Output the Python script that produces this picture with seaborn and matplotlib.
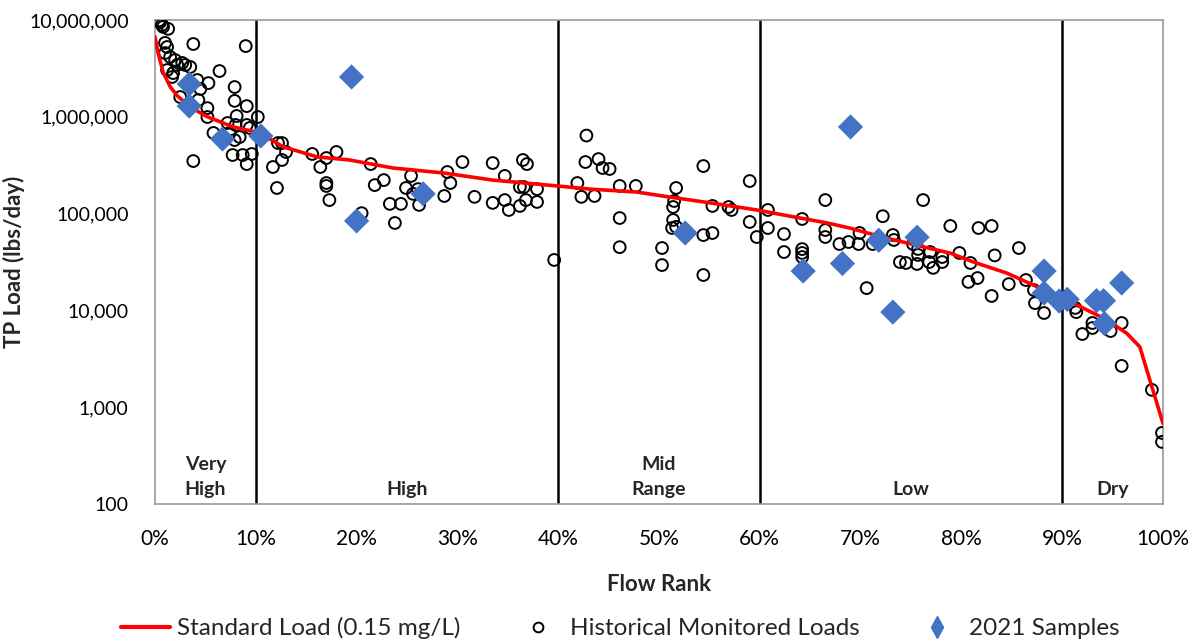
import numpy as np
import pandas as pd
import matplotlib
matplotlib.use("Agg")
import matplotlib.pyplot as plt
import seaborn as sns
from matplotlib.ticker import FuncFormatter, FixedLocator
from matplotlib.lines import Line2D

# ---- Standard load curve (flow rank %, lbs/day) ----
std_rank = [0, 0.3, 0.8, 1.5, 2.2, 3.5, 5.2, 7.7, 10.4, 12.7, 16.1, 19.3, 23.6, 28.6, 33.5, 39.9,
            43.2, 47.8, 51.1, 55.1, 59.7, 62.3, 66.7, 68.9, 72.2, 75.6, 78.9, 81.2,
            84.5, 87.8, 91.1, 94.4, 96.4, 97.7, 98.7, 100]
std_load = [6.7e6, 4.6e6, 2.9e6, 2.05e6, 1.65e6, 1.26e6, 1.0e6, 7.9e5, 6.8e5, 4.9e5, 3.85e5, 3.58e5, 2.96e5,
            2.63e5, 2.22e5, 1.93e5, 1.79e5, 1.67e5, 1.48e5, 1.29e5, 1.09e5, 9.7e4, 8.0e4,
            7.1e4, 5.7e4, 4.7e4, 3.9e4, 3.16e4, 2.43e4, 1.7e4, 1.19e4, 8.0e3, 5.8e3,
            4.2e3, 1.9e3, 680]

# ---- Historical monitored loads ----
hist_rank = [0.4, 0.5, 0.7, 0.8, 1.3, 3.8, 9.0, 1.0, 1.2, 1.0, 1.5, 2.0, 2.2, 2.7, 3.0, 3.5,
             1.2, 1.8, 1.7, 6.4, 4.2, 5.3, 4.5, 7.9, 2.5, 4.3, 7.9, 9.1, 5.2, 5.2, 8.1, 10.2,
             7.2, 8.0, 9.1, 9.4, 5.8, 7.4, 8.4, 7.9, 7.7, 8.7, 9.6, 9.1, 3.8, 12.2,
             12.6, 13.0, 12.6, 11.7, 12.1, 15.6, 17.0, 18.0, 16.4, 17.0, 17.0, 17.3, 21.4,
             21.8, 22.7, 23.3, 24.4, 23.8, 20.5, 25.4, 24.9, 25.6, 26.2, 26.1, 29.0, 28.7,
             29.3, 30.5, 31.7, 33.5, 34.7, 33.5, 34.7, 35.1, 36.5, 36.9, 36.2, 36.6, 37.9,
             36.2, 36.8, 37.9, 39.6,
             42.8, 42.7, 41.9, 42.3, 44.0, 44.4, 45.1, 43.6, 46.1, 47.7, 46.1, 46.1, 51.7,
             51.5, 51.4, 51.4, 51.3, 51.7, 50.3, 50.3, 54.4, 55.3, 54.4, 55.3, 56.9, 57.2,
             54.4, 59.0, 59.0, 59.7,
             60.8, 60.8, 62.4, 62.4, 64.2, 64.2, 64.2, 64.2, 66.5, 66.5, 66.5, 67.9, 68.8,
             69.8, 69.9, 71.2, 70.6, 72.2, 73.2, 73.3, 73.9, 74.5, 76.2, 75.2, 75.7, 75.7,
             75.6, 76.9, 76.8, 77.2, 78.1, 78.1, 78.9, 81.7, 83.0, 79.8, 80.9, 83.3, 80.7,
             81.6, 83.0, 85.7, 84.7, 86.4, 87.2, 87.3, 88.2,
             91.3, 91.4, 93.0, 93.0, 92.0, 94.8, 95.9, 95.9, 98.9, 99.9, 99.9]
hist_load = [9.9e6, 9.5e6, 8.9e6, 8.5e6, 8.1e6, 5.65e6, 5.38e6, 5.8e6, 5.26e6, 4.56e6, 4.15e6,
             3.86e6, 3.43e6, 3.6e6, 3.43e6, 3.27e6, 3.04e6, 2.83e6, 2.58e6, 2.97e6, 2.4e6,
             2.23e6, 1.94e6, 2.03e6, 1.6e6, 1.49e6, 1.46e6, 1.29e6, 1.23e6, 9.95e5, 1.02e6,
             9.95e5, 8.63e5, 8.23e5, 8.23e5, 7.66e5, 6.81e5, 6.81e5, 6.18e5, 5.75e5, 4.03e5,
             4.03e5, 4.13e5, 3.25e5, 3.49e5, 5.36e5,
             5.36e5, 4.33e5, 3.58e5, 3.03e5, 1.84e5, 4.13e5, 3.75e5, 4.33e5, 3.03e5, 2.07e5,
             1.93e5, 1.38e5, 3.25e5, 1.97e5, 2.22e5, 1.26e5, 1.26e5, 8.0e4, 1.01e5, 2.45e5,
             1.84e5, 1.6e5, 1.23e5, 1.79e5, 2.69e5, 1.52e5, 2.07e5, 3.41e5, 1.49e5, 3.33e5,
             2.45e5, 1.29e5, 1.38e5, 1.09e5, 3.58e5, 3.25e5, 1.88e5, 1.88e5, 1.79e5, 1.2e5,
             1.38e5, 1.32e5, 3.32e4,
             6.4e5, 3.41e5, 2.07e5, 1.49e5, 3.66e5, 2.96e5, 2.89e5, 1.52e5, 1.93e5, 1.93e5,
             9.0e4, 4.5e4, 1.84e5, 1.35e5, 1.17e5, 8.6e4, 7.1e4, 7.3e4, 4.41e4, 2.94e4,
             3.1e5, 1.2e5, 6.0e4, 6.3e4, 1.17e5, 1.09e5, 2.32e4, 2.17e5, 8.2e4, 5.73e4,
             1.09e5, 7.1e4, 6.15e4, 4.01e4, 8.8e4, 4.3e4, 3.92e4, 3.56e4, 1.38e5, 6.77e4,
             5.73e4, 4.85e4, 5.09e4, 4.85e4, 6.31e4, 4.85e4, 1.7e4, 9.4e4, 6.01e4, 5.34e4,
             3.16e4, 3.09e4, 1.38e5, 4.85e4, 4.31e4, 3.74e4, 3.02e4, 4.01e4, 3.16e4, 2.75e4,
             3.56e4, 3.16e4, 7.45e4, 7.1e4, 7.45e4, 3.92e4, 3.09e4, 3.7e4, 1.97e4, 2.16e4,
             1.41e4, 4.41e4, 1.87e4, 2.06e4, 1.62e4, 1.19e4, 9.4e3,
             1.06e4, 9.6e3, 7.41e3, 6.58e3, 5.7e3, 6.12e3, 7.41e3, 2.67e3, 1.51e3, 542, 438]

# ---- 2021 samples ----
s21_rank = [3.4, 3.4, 6.7, 10.5, 19.5, 20.0, 26.6, 52.6, 64.3, 68.2, 69.0, 71.8, 75.6,
            73.2, 88.2, 88.2, 89.7, 90.5, 93.4, 94.1, 94.2, 95.9]
s21_load = [2.18e6, 1.29e6, 5.9e5, 6.34e5, 2.58e6, 8.4e4, 1.6e5, 6.3e4, 2.55e4, 3.05e4,
            7.86e5, 5.3e4, 5.7e4, 9.6e3, 2.55e4, 1.51e4, 1.25e4, 1.3e4, 1.26e4, 1.26e4,
            7.3e3, 1.92e4]

# ---- zones ----
zone_bounds = [10, 40, 60, 90]
zone_names = ["Very\nHigh", "High", "Mid\nRange", "Low", "Dry"]
zone_centers = [5, 25, 50, 75, 95]

x_ticks = list(range(0, 101, 10))
y_ticks = [100, 1000, 10000, 100000, 1000000, 10000000]

sns.set_theme(style="white")
FONT = ["Lato", "DejaVu Sans"]
plt.rcParams["font.family"] = FONT

fig = plt.figure(figsize=(12, 6.43), dpi=100)
ax = fig.add_axes([155 / 1200, 1 - 504 / 643, (1163 - 155) / 1200, (504 - 20) / 643])

std_df = pd.DataFrame({"rank": std_rank, "load": std_load})
hist_df = pd.DataFrame({"rank": hist_rank, "load": hist_load})
s21_df = pd.DataFrame({"rank": s21_rank, "load": s21_load})

ax.set_yscale("log")

for b in zone_bounds:
    ax.axvline(b, color="black", lw=1.8, zorder=1)

sns.scatterplot(data=hist_df, x="rank", y="load", ax=ax, marker="o", s=72,
                facecolor="none", edgecolor="black", linewidth=1.4, zorder=3, legend=False)
sns.lineplot(data=std_df, x="rank", y="load", ax=ax, color="#FF0000", lw=2.6,
             zorder=4, legend=False)
sns.scatterplot(data=s21_df, x="rank", y="load", ax=ax, marker="D", s=165,
                color="#4472C4", edgecolor="none", zorder=5, legend=False)

ax.set_xlim(0, 100)
ax.set_ylim(100, 1e7)
ax.xaxis.set_major_locator(FixedLocator(x_ticks))
ax.xaxis.set_major_formatter(FuncFormatter(lambda v, p: f"{int(round(v))}%"))
ax.yaxis.set_major_locator(FixedLocator(y_ticks))
ax.yaxis.set_major_formatter(FuncFormatter(lambda v, p: f"{int(round(v)):,}"))
ax.yaxis.set_minor_locator(FixedLocator([]))

ax.tick_params(axis="both", which="major", direction="out", length=6, width=1,
               color="#888888", labelsize=15, labelcolor="black")
ax.tick_params(axis="y", labelsize=14, pad=13)
ax.tick_params(axis="x", pad=12)
for sp in ax.spines.values():
    sp.set_color("#999999")
    sp.set_linewidth(1.2)
    sp.set_visible(True)

ax.set_xlabel("Flow Rank", fontsize=16, fontweight="bold", labelpad=18)
ax.set_ylabel("TP Load (lbs/day)", fontsize=16, fontweight="bold")
ax.yaxis.set_label_coords((25 - 155) / 1008, 0.5)

for name, cx in zip(zone_names, zone_centers):
    ax.text(cx, 116, name, ha="center", va="bottom", fontsize=14, fontweight="bold",
            linespacing=1.55)

handles = [
    Line2D([0], [0], color="#FF0000", lw=3),
    Line2D([0], [0], marker="o", ls="none", markerfacecolor="none",
           markeredgecolor="black", markersize=7, markeredgewidth=1.4),
    Line2D([0], [0], marker="d", ls="none", color="#4472C4", markersize=11),
]
labels = ["Standard Load (0.15 mg/L)", "Historical Monitored Loads", "2021 Samples"]
fig.legend(handles, labels, loc="center", bbox_to_anchor=(0.517, 1 - 628 / 643), ncol=3,
           frameon=False, fontsize=17.5, handlelength=2.0, columnspacing=2.2,
           handletextpad=0.3)

fig.savefig("out.png", dpi=100)
